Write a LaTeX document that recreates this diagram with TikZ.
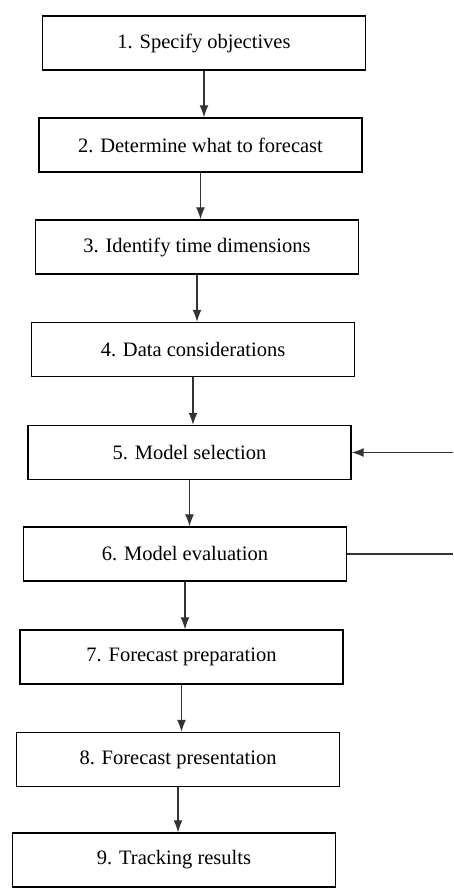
\documentclass[tikz,border=0pt]{standalone}
\usepackage{fontspec}
\setmainfont{Liberation Serif}
\usetikzlibrary{arrows.meta}
\begin{document}
\begin{tikzpicture}[x=1pt,y=-1pt,
  stepbox/.style={draw=black, line width=1.4pt, rectangle, minimum width=323pt, minimum height=54pt, inner sep=0pt, font=\fontsize{20.5}{24}\selectfont, text=black},
  flow/.style={draw=black!80, line width=1.2pt, -{Latex[length=12pt,width=9pt]}},
  fb/.style={draw=black!80, line width=1.1pt}]
\useasboundingbox (0,0) rectangle (453,894);
\node[stepbox] (b1) at (204,43)    {1. Specify objectives};
\node[stepbox] (b2) at (200.5,145) {2. Determine what to forecast};
\node[stepbox] (b3) at (197,247)   {3. Identify time dimensions};
\node[stepbox] (b4) at (193,349.5) {4. Data considerations};
\node[stepbox] (b5) at (189.5,452.5) {5. Model selection};
\node[stepbox] (b6) at (185,554)   {6. Model evaluation};
\node[stepbox] (b7) at (181.5,657) {7. Forecast preparation};
\node[stepbox] (b8) at (178,759.5) {8. Forecast presentation};
\node[stepbox] (b9) at (174,860)   {9. Tracking results};
\draw[flow] (b1.south) -- (b1.south |- b2.north);
\draw[flow] (b2.south) -- (b2.south |- b3.north);
\draw[flow] (b3.south) -- (b3.south |- b4.north);
\draw[flow] (b4.south) -- (b4.south |- b5.north);
\draw[flow] (b5.south) -- (b5.south |- b6.north);
\draw[flow] (b6.south) -- (b6.south |- b7.north);
\draw[flow] (b7.south) -- (b7.south |- b8.north);
\draw[flow] (b8.south) -- (b8.south |- b9.north);
\coordinate (r5) at (453,452.5);
\coordinate (r6) at (453,554);
\draw[flow] (r5) -- (b5.east);
\draw[fb] (b6.east) -- (r6);
\end{tikzpicture}
\end{document}
